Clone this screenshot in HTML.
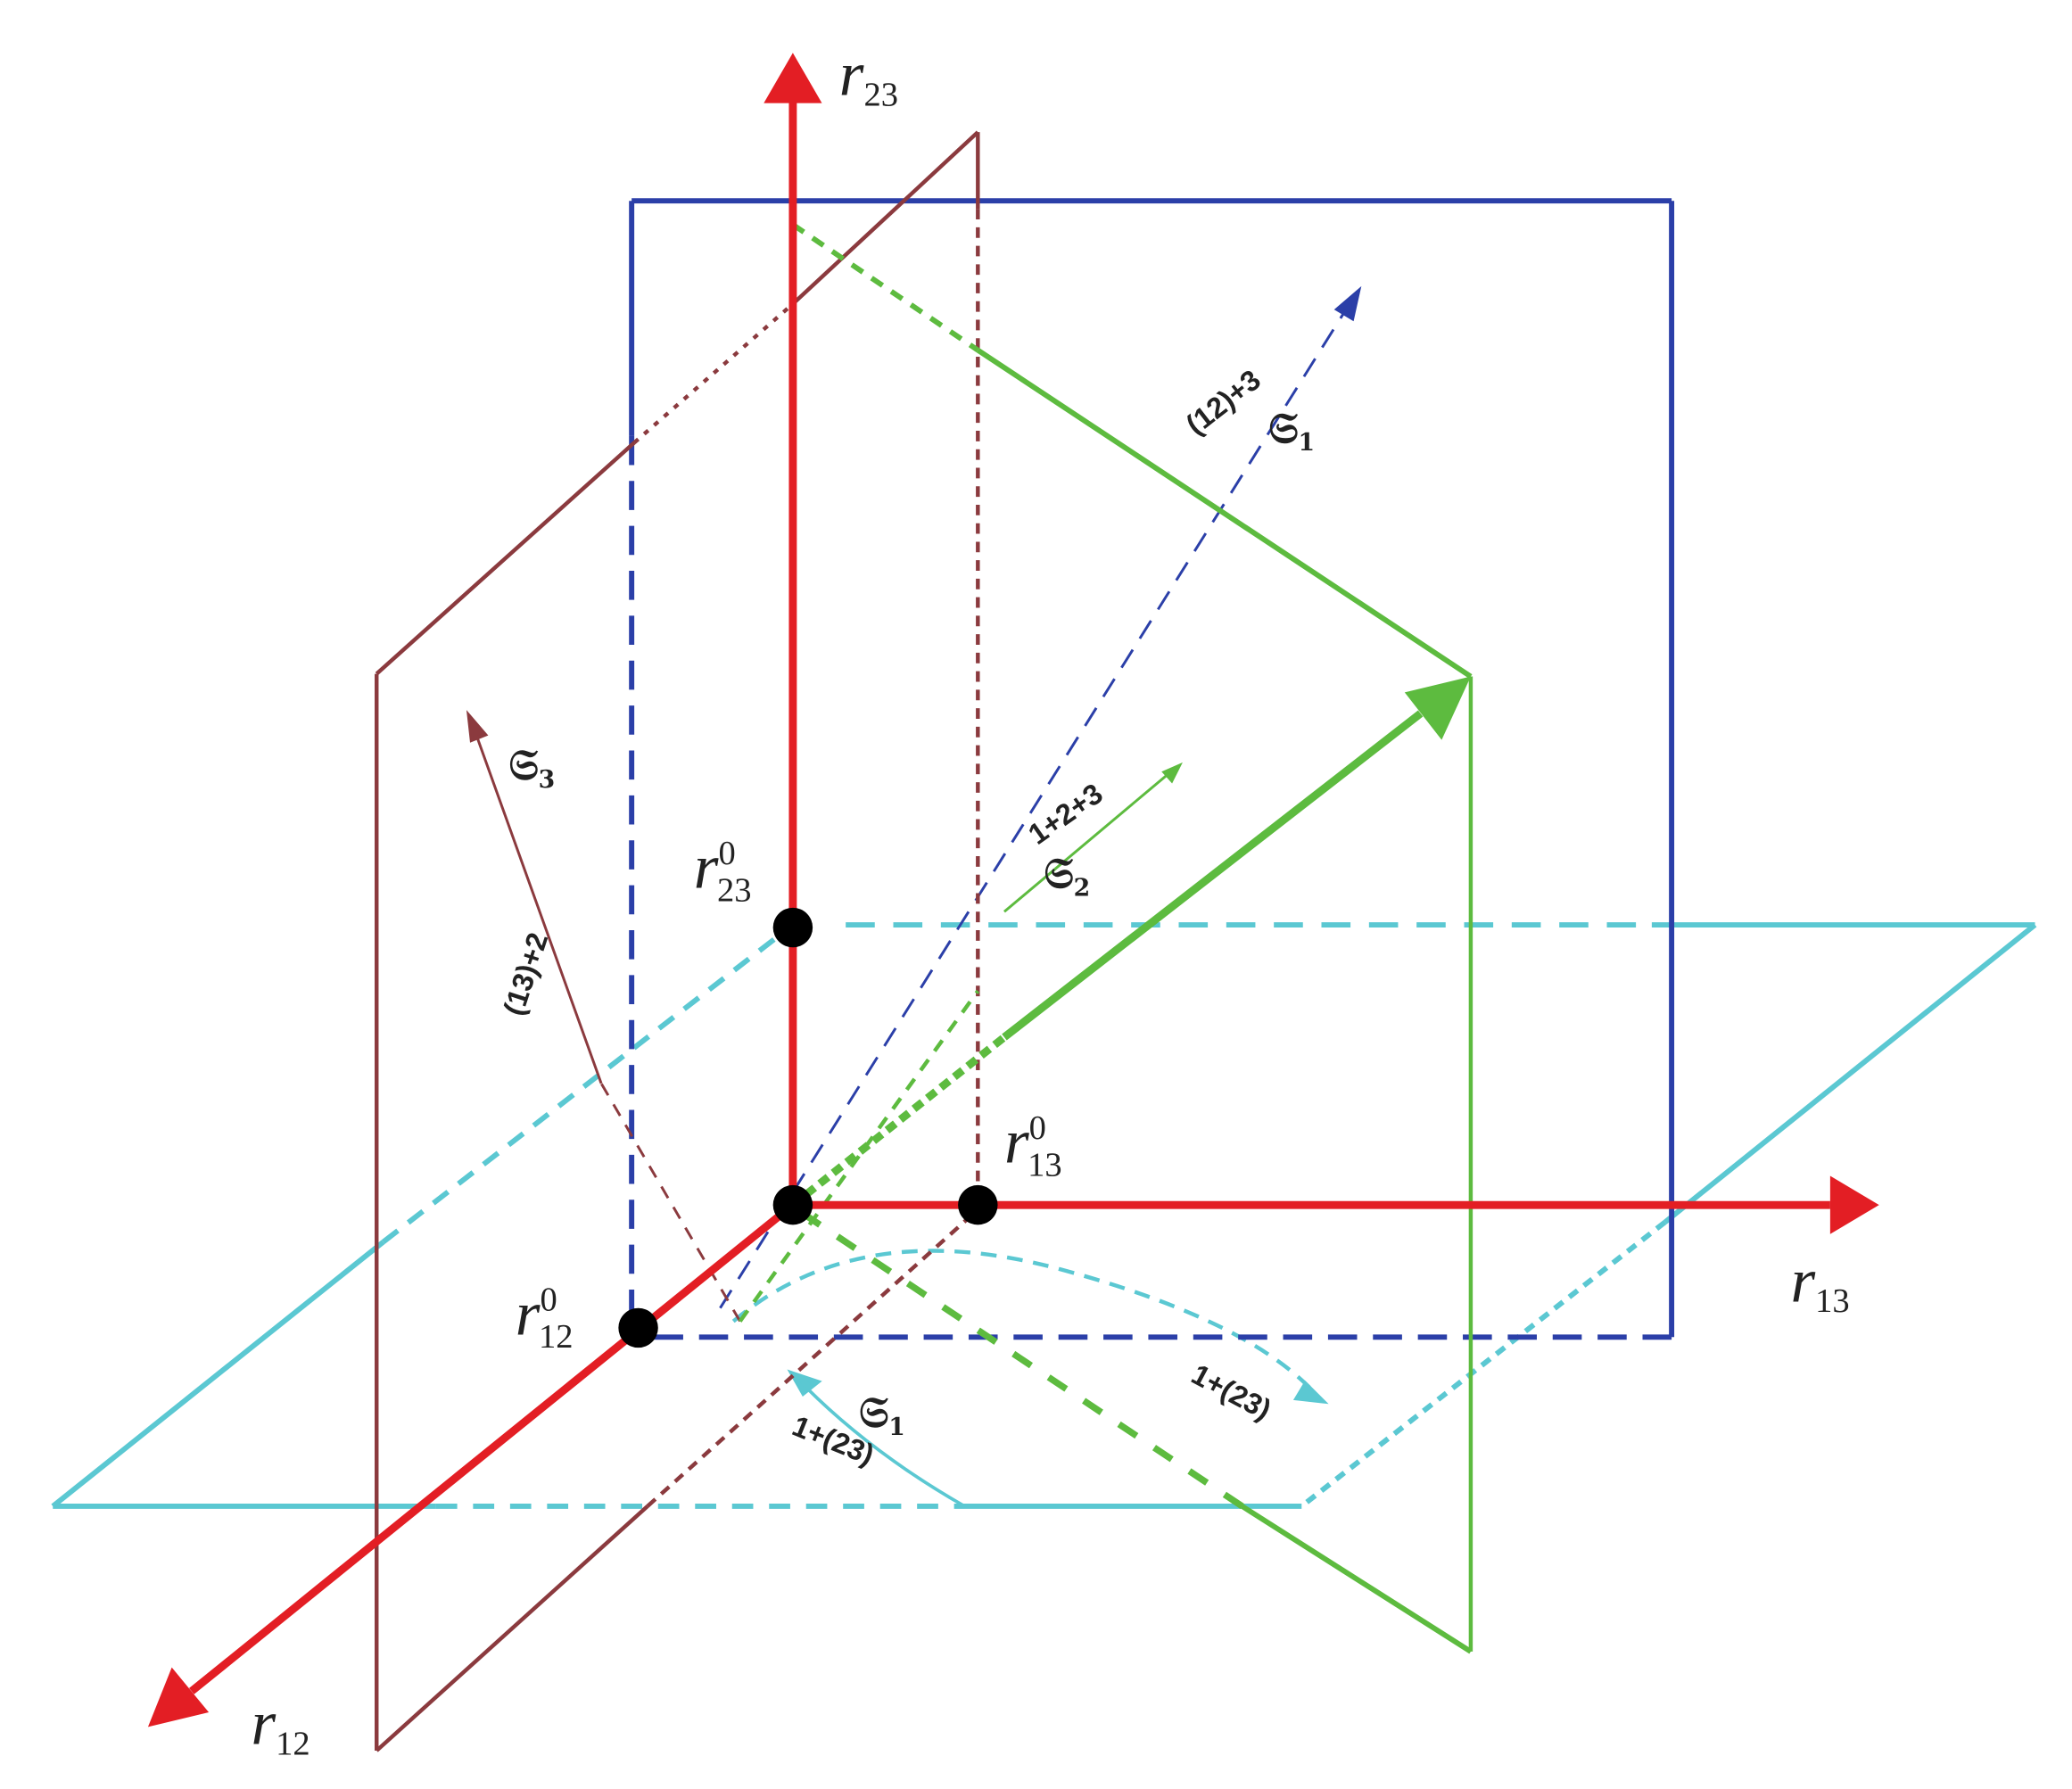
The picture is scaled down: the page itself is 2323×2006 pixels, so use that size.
<!DOCTYPE html>
<html><head><meta charset="utf-8"><style>html,body{margin:0;padding:0;background:#fff}svg{display:block}</style></head><body>
<svg width="2323" height="2006" viewBox="0 0 1568 1354" xmlns="http://www.w3.org/2000/svg" font-family="Liberation Serif, serif">
<defs>
<marker id="ar" markerWidth="8" markerHeight="8" refX="7" refY="4" orient="auto" markerUnits="userSpaceOnUse" viewBox="0 0 8 8"><path d="M0,0 L8,4 L0,8 Z" fill="#e31e24"/></marker>
</defs>
<!-- cyan plane -->
<g stroke="#5bc8d2" stroke-width="4" fill="none">
<line x1="40" y1="1140" x2="330" y2="1140"/>
<line x1="330" y1="1140" x2="730" y2="1140" stroke-dasharray="16,12"/>
<line x1="730" y1="1140" x2="985" y2="1140"/>
<line x1="40" y1="1140" x2="290" y2="940"/>
<line x1="290" y1="940" x2="600" y2="700" stroke-dasharray="14,10"/>
<line x1="640" y1="700" x2="1250" y2="700" stroke-dasharray="22,14"/>
<line x1="1250" y1="700" x2="1540" y2="700"/>
<line x1="1540" y1="700" x2="1260" y2="925"/>
<line x1="1260" y1="925" x2="985" y2="1140" stroke-dasharray="8,6"/>
<path d="M555,1000 Q650,920 800,960 T1000,1060" stroke-width="3" stroke-dasharray="12,8"/>
<path d="M730,1140 Q660,1100 610,1050" stroke-width="2.5"/>
<path d="M1000,1060 l-18,-2 l6,-10 z" fill="#5bc8d2"/>
<path d="M600,1040 l18,6 l-10,8 z" fill="#5bc8d2"/>
</g>
<!-- blue plane -->
<g stroke="#2b3fa8" stroke-width="4" fill="none">
<line x1="478" y1="152" x2="1265" y2="152"/>
<line x1="1265" y1="152" x2="1265" y2="1012"/>
<line x1="478" y1="152" x2="478" y2="330"/>
<line x1="478" y1="330" x2="478" y2="1005" stroke-dasharray="22,12"/>
<line x1="495" y1="1012" x2="1265" y2="1012" stroke-dasharray="22,12"/>
<line x1="545" y1="990" x2="1020" y2="232" stroke-width="2" stroke-dasharray="16,10"/>
<path d="M1027,222 l-4,18 l-10,-6 z" fill="#2b3fa8"/>
</g>
<!-- brown plane -->
<g stroke="#8b3a3e" stroke-width="3" fill="none">
<line x1="285" y1="510" x2="480" y2="335"/>
<line x1="480" y1="335" x2="600" y2="230" stroke-dasharray="4,6"/>
<line x1="600" y1="230" x2="740" y2="100"/>
<line x1="740" y1="100" x2="740" y2="158"/>
<line x1="740" y1="158" x2="740" y2="900" stroke-dasharray="8,6"/>
<line x1="285" y1="510" x2="285" y2="1325"/>
<line x1="285" y1="1325" x2="490" y2="1140"/>
<line x1="490" y1="1140" x2="735" y2="920" stroke-dasharray="8,6"/>
<line x1="560" y1="1000" x2="455" y2="820" stroke-width="2" stroke-dasharray="10,8"/>
<line x1="455" y1="820" x2="360" y2="555" stroke-width="2"/>
<path d="M355,542 l12,14 l-10,4 z" fill="#8b3a3e"/>
</g>
<!-- green plane -->
<g stroke="#5dbb3f" fill="none">
<line x1="600" y1="170" x2="740" y2="265" stroke-width="4" stroke-dasharray="10,8"/>
<line x1="740" y1="265" x2="1113" y2="512" stroke-width="4"/>
<line x1="1113" y1="512" x2="1113" y2="1250" stroke-width="3"/>
<line x1="1113" y1="1250" x2="940" y2="1140" stroke-width="4"/>
<line x1="940" y1="1140" x2="610" y2="920" stroke-width="5" stroke-dasharray="16,16"/>
<line x1="600" y1="912" x2="760" y2="785" stroke-width="6" stroke-dasharray="8,5"/>
<line x1="760" y1="785" x2="1075" y2="540" stroke-width="6"/>
<path d="M1113,512 l-22,48 l-28,-36 z" fill="#5dbb3f" stroke="none"/>
<line x1="560" y1="1000" x2="740" y2="750" stroke-width="3" stroke-dasharray="10,8"/>
<line x1="760" y1="690" x2="885" y2="585" stroke-width="2"/>
<path d="M895,577 l-8,16 l-8,-9 z" fill="#5dbb3f" stroke="none"/>
</g>
<!-- red axes -->
<g stroke="#e31e24" stroke-width="6" fill="none">
<line x1="600" y1="912" x2="600" y2="75"/>
<line x1="600" y1="912" x2="1385" y2="912"/>
<line x1="600" y1="912" x2="145" y2="1280"/>
</g>
<path d="M600,40 L622,78 L578,78 Z" fill="#e31e24"/>
<path d="M1422,912 L1385,890 L1385,934 Z" fill="#e31e24"/>
<path d="M112,1307 L130,1262 L158,1296 Z" fill="#e31e24"/>
<g fill="#000">
<circle cx="600" cy="912" r="15"/><circle cx="740" cy="912" r="15"/>
<circle cx="483" cy="1005" r="15"/><circle cx="600" cy="702" r="15"/>
</g>
<g font-style="italic" font-size="48" fill="#222">
<text x="635" y="72">r<tspan font-size="26" font-style="normal" dy="8">23</tspan></text>
<text x="1355" y="985">r<tspan font-size="26" font-style="normal" dy="8">13</tspan></text>
<text x="190" y="1320">r<tspan font-size="26" font-style="normal" dy="8">12</tspan></text>
<text x="525" y="672">r<tspan font-size="26" font-style="normal" dy="-18">0</tspan><tspan font-size="26" font-style="normal" dx="-14" dy="28">23</tspan></text>
<text x="760" y="880">r<tspan font-size="26" font-style="normal" dy="-18">0</tspan><tspan font-size="26" font-style="normal" dx="-14" dy="28">13</tspan></text>
<text x="390" y="1010">r<tspan font-size="26" font-style="normal" dy="-18">0</tspan><tspan font-size="26" font-style="normal" dx="-14" dy="28">12</tspan></text>
</g>
<g font-family="Liberation Sans, sans-serif" font-weight="bold" font-size="22" fill="#222">
<text transform="translate(905,330) rotate(-38)">(12)+3</text>
<text transform="translate(785,640) rotate(-35)">1+2+3</text>
<text transform="translate(395,770) rotate(-72)">(13)+2</text>
<text transform="translate(900,1045) rotate(28)">1+(23)</text>
<text transform="translate(598,1085) rotate(22)">1+(23)</text>
</g>
<g font-family="DejaVu Serif, serif" font-weight="bold" font-size="32" fill="#222">
<text x="960" y="335">𝔖<tspan font-size="18" dy="6">1</tspan></text>
<text x="790" y="672">𝔖<tspan font-size="18" dy="6">2</tspan></text>
<text x="385" y="590">𝔖<tspan font-size="18" dy="6">3</tspan></text>
<text x="650" y="1080">𝔖<tspan font-size="18" dy="6">1</tspan></text>
</g>
</svg>
</body></html>
